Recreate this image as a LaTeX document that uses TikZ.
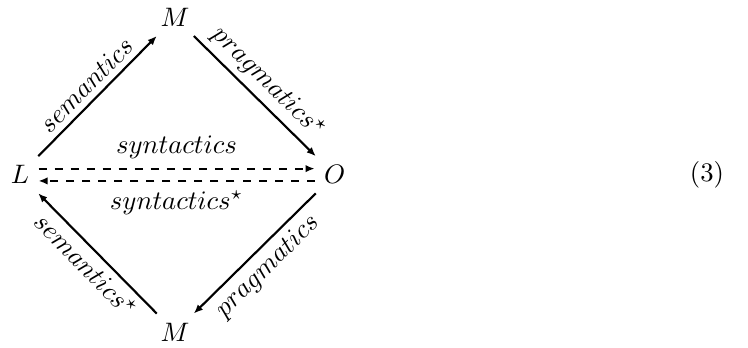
\documentclass[tikz,border=0pt]{standalone}
\usetikzlibrary{arrows.meta}
\begin{document}
\begin{tikzpicture}[>={Latex[length=3.4pt, width=2.8pt]},
          obj/.style={inner sep=3.33pt},
          arr/.style={->, thick},
          darr/.style={->, thick, dashed},
          lab/.style={sloped, inner sep=2.3pt}]
        \useasboundingbox (-0.263,-2.276) rectangle (9.58,2.30);
        \node[obj] (L) at (0,0) {$L$};
        \node[obj] (Mt) at (2.04,2.07) {$M$};
        \node[obj] (O) at (4.14,0) {$O$};
        \node[obj] (Mb) at (2.04,-2.07) {$M$};
        \node (eqno) at (9.04,0) {(3)};
        \draw[arr] (L) -- node[lab, above] {$semantics$} (Mt);
        \draw[arr] (Mt) -- node[lab, above] {$pragmatics^\star$} (O);
        \draw[arr] (O) -- node[lab, below] {$pragmatics$} (Mb);
        \draw[arr] (Mb) -- node[lab, below] {$semantics^\star$} (L);
        % two dashed arrows, shifted apart by 2.3pt each way
        \draw[darr] ([yshift=2.3pt]L.east) -- node[above] {$syntactics$} ([yshift=2.3pt]O.west);
        \draw[darr] ([yshift=-2.3pt]O.west) -- node[below] {$syntactics^\star$} ([yshift=-2.3pt]L.east);
      \end{tikzpicture}
\end{document}
